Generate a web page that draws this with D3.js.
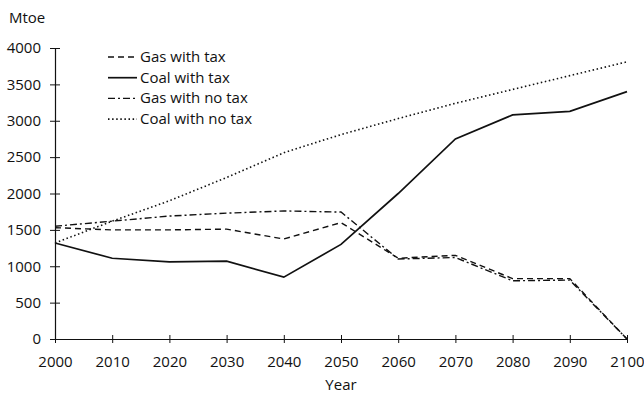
<!DOCTYPE html>
<html>
<head>
<meta charset="utf-8">
<script src="https://cdn.jsdelivr.net/npm/d3@7"></script>
<style>
  html, body { margin: 0; padding: 0; background: #fff; }
  svg text { font-family: "Open Sans", "DejaVu Sans", sans-serif; fill: #111; }
</style>
</head>
<body>
<svg id="chart" width="644" height="393"></svg>
<script>
// Years on the x axis
const years = [2000, 2010, 2020, 2030, 2040, 2050, 2060, 2070, 2080, 2090, 2100];

// Energy demand, Mtoe
const gasWithTax    = [1530, 1500, 1500, 1510, 1375, 1600, 1110, 1150, 830, 830, 0];
const coalWithTax   = [1320, 1110, 1060, 1070, 850, 1300, 2000, 2750, 3080, 3130, 3400];
const gasNoTax      = [1550, 1620, 1690, 1730, 1760, 1745, 1100, 1120, 800, 810, 0];
const coalNoTax     = [1320, 1620, 1900, 2220, 2560, 2810, 3030, 3240, 3430, 3620, 3810];

const yTicks = [0, 500, 1000, 1500, 2000, 2500, 3000, 3500, 4000];

const seriesNames = ["Gas with tax", "Coal with tax", "Gas with no tax", "Coal with no tax"];
const seriesValues = [gasWithTax, coalWithTax, gasNoTax, coalNoTax];
const seriesDash = ["6,4", null, "7,3,2,3", "1.5,2.6"];
const seriesWidth = [1.4, 1.7, 1.4, 1.6];

const svg = d3.select("#chart");

const x = d3.scaleLinear().domain([2000, 2100]).range([55, 627]);
const y = d3.scaleLinear().domain([0, 4000]).range([339, 48]);

// Axes: ticks cross the axis line on both sides
const xAxis = svg.append("g").attr("transform", `translate(0,${y(0)})`)
  .call(d3.axisBottom(x).tickValues(years).tickFormat(d3.format("d")).tickSize(4).tickSizeOuter(0));
xAxis.selectAll(".tick line").attr("y1", -4).attr("y2", 4);
xAxis.selectAll(".tick text").attr("dy", 0).attr("y", 28).style("font-size", "15px");

const yAxis = svg.append("g").attr("transform", `translate(${x(2000)},0)`)
  .call(d3.axisLeft(y).tickValues(yTicks).tickFormat(d3.format("d")).tickSize(5).tickSizeOuter(0));
yAxis.selectAll(".tick line").attr("x1", -5).attr("x2", 5);
yAxis.selectAll(".tick text").attr("x", -14).style("font-size", "15px");

svg.selectAll(".domain").attr("stroke", "#111").attr("stroke-width", 1.2);
svg.selectAll(".tick line").attr("stroke", "#111").attr("stroke-width", 1);
svg.selectAll(".tick text").attr("fill", "#111");

// Axis titles
svg.append("text").attr("x", 9).attr("y", 23).style("font-size", "15px").text("Mtoe");
svg.append("text").attr("x", x(2050)).attr("y", 390).attr("text-anchor", "middle")
  .style("font-size", "15px").text("Year");

// Series lines
const line = d3.line().x((d, i) => x(years[i])).y(d => y(d));
seriesValues.forEach((vals, k) => {
  svg.append("path").datum(vals)
    .attr("d", line)
    .attr("fill", "none")
    .attr("stroke", "#111")
    .attr("stroke-width", seriesWidth[k])
    .attr("stroke-dasharray", seriesDash[k]);
});

// Legend
const legend = svg.append("g").attr("transform", "translate(108,57)");
seriesNames.forEach((name, k) => {
  const row = legend.append("g").attr("transform", `translate(0,${k * 20.7})`);
  row.append("line").attr("x1", 0).attr("x2", 29).attr("y1", 0).attr("y2", 0)
    .attr("stroke", "#111").attr("stroke-width", seriesWidth[k])
    .attr("stroke-dasharray", seriesDash[k]);
  row.append("text").attr("x", 32).attr("y", 5).style("font-size", "15px").text(name);
});
</script>
</body>
</html>
